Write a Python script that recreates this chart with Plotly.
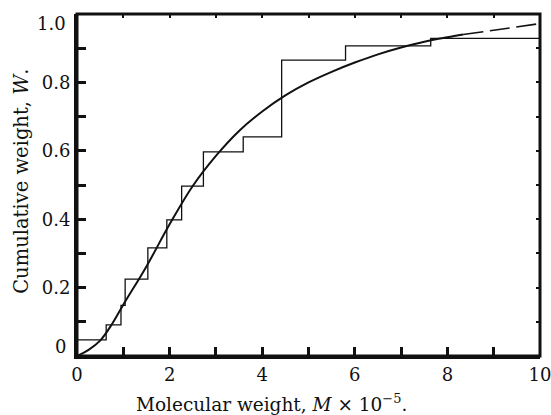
import plotly.graph_objects as go

# Histogram (cumulative step) data: step start positions and levels
step_x = [0, 0.63, 0.95, 1.04, 1.53, 1.94, 2.26, 2.73, 3.59, 4.42, 5.80, 7.64, 10.0]
step_y = [0.047, 0.091, 0.148, 0.225, 0.316, 0.398, 0.497, 0.597, 0.641, 0.865, 0.907, 0.929, 0.929]

# Smooth fitted curve (solid part)
curve_x = [0, 0.25, 0.5, 0.75, 1.0, 1.5, 2.0, 2.5, 3.0, 3.5, 4.0, 4.5, 5.0, 5.5, 6.0, 6.5, 7.0, 7.5, 8.0, 8.34]
curve_y = [0, 0.018, 0.045, 0.092, 0.150, 0.262, 0.385, 0.497, 0.585, 0.658, 0.715, 0.762, 0.800, 0.831, 0.858, 0.882, 0.902, 0.919, 0.932, 0.940]

# Dashed extrapolation
ext_x = [8.34, 8.92, 10.0]
ext_y = [0.940, 0.951, 0.972]

x_ticks = [0, 2, 4, 6, 8, 10]
x_labels = ["0", "2", "4", "6", "8", "10"]
y_ticks = [0.2, 0.4, 0.6, 0.8]
y_labels = ["0.2", "0.4", "0.6", "0.8"]
x_all_ticks = [0, 1, 2, 3, 4, 5, 6, 7, 8, 9, 10]
y_all_ticks = [0, 0.1, 0.2, 0.3, 0.4, 0.5, 0.6, 0.7, 0.8, 0.9, 1.0]

FONT = "DejaVu Serif"
INK = "#111111"

fig = go.Figure()
fig.add_trace(go.Scatter(x=step_x, y=step_y, mode="lines", line=dict(shape="hv", color=INK, width=1.3),
                         showlegend=False, hoverinfo="skip"))
fig.add_trace(go.Scatter(x=curve_x, y=curve_y, mode="lines", line=dict(shape="spline", color=INK, width=2),
                         showlegend=False, hoverinfo="skip"))
fig.add_trace(go.Scatter(x=ext_x, y=ext_y, mode="lines",
                         line=dict(shape="spline", color=INK, width=1.6, dash="20px,7px"),
                         showlegend=False, hoverinfo="skip"))
# invisible trace on the overlay axes that carry the small top/right ticks
fig.add_trace(go.Scatter(x=[None], y=[None], xaxis="x2", yaxis="y2", showlegend=False, hoverinfo="skip"))

axis_common = dict(showgrid=False, zeroline=False, showline=True, linecolor=INK, linewidth=3,
                   ticks="inside", ticklen=9, tickwidth=2.5, tickcolor=INK,
                   automargin=False, ticklabeloverflow="allow",
                   tickfont=dict(family=FONT, size=18, color=INK))

fig.update_layout(
    xaxis=dict(range=[0, 10], tickmode="array", tickvals=x_ticks, ticktext=x_labels,
               minor=dict(ticks="inside", ticklen=9, tickwidth=2.5, tickcolor=INK,
                          tickmode="array", tickvals=x_all_ticks),
               **axis_common),
    yaxis=dict(range=[0, 1.0], tickmode="array", tickvals=y_ticks, ticktext=y_labels,
               minor=dict(ticks="inside", ticklen=9, tickwidth=2.5, tickcolor=INK,
                          tickmode="array", tickvals=y_all_ticks),
               **axis_common),
    xaxis2=dict(overlaying="x", anchor="y", side="top", range=[0, 10], tickmode="array",
                tickvals=x_all_ticks, showticklabels=False, ticks="inside", ticklen=4, tickwidth=1.5,
                tickcolor=INK, showgrid=False, zeroline=False, showline=False, automargin=False),
    yaxis2=dict(overlaying="y", anchor="x", side="right", range=[0, 1.0], tickmode="array",
                tickvals=y_all_ticks, showticklabels=False, ticks="inside", ticklen=4, tickwidth=1.5,
                tickcolor=INK, showgrid=False, zeroline=False, showline=False, automargin=False),
)

# plot frame
fig.add_shape(type="rect", xref="paper", yref="paper", x0=0, x1=1, y0=0, y1=1,
              line=dict(color=INK, width=3), fillcolor="rgba(0,0,0,0)", layer="above")

annotations = [
    dict(text="0", x=0, y=0, xref="paper", yref="y", xanchor="right", yanchor="middle",
         xshift=-9, yshift=10, showarrow=False, font=dict(family=FONT, size=18, color=INK)),
    dict(text="1.0", x=0, y=1.0, xref="paper", yref="y", xanchor="right", yanchor="middle",
         xshift=-9, yshift=-9, showarrow=False, font=dict(family=FONT, size=18, color=INK)),
    dict(text="Molecular weight, <i>M</i> × 10<sup>−5</sup>.", x=0.421, y=-0.137, xref="paper",
         yref="paper", xanchor="center", yanchor="middle", showarrow=False,
         font=dict(family=FONT, size=18.5, color=INK)),
    dict(text="Cumulative weight, <i>W</i>.", x=-0.119, y=0.512, xref="paper", yref="paper",
         xanchor="center", yanchor="middle", textangle=-90, showarrow=False,
         font=dict(family=FONT, size=19.5, color=INK)),
]

fig.update_layout(
    width=551, height=415,
    margin=dict(l=77, r=11, t=14, b=59, autoexpand=False),
    paper_bgcolor="white", plot_bgcolor="white",
    annotations=annotations,
)

fig.write_html("out.html")
